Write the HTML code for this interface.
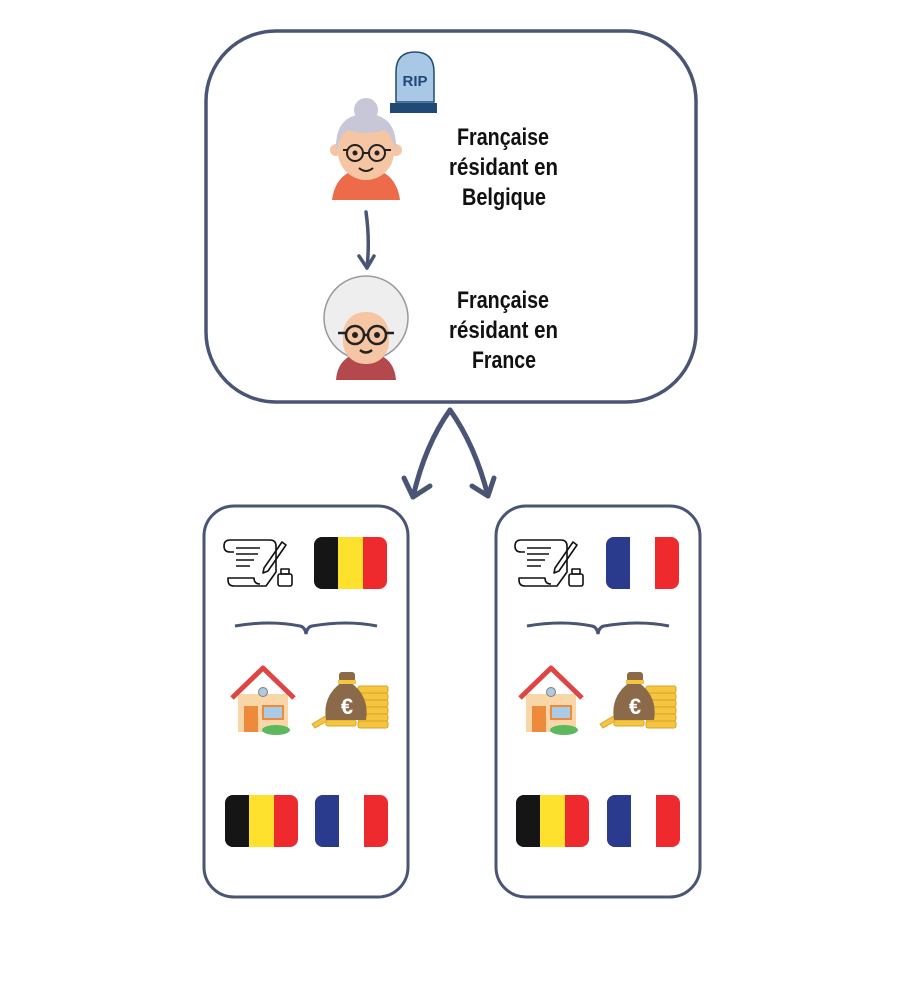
<!DOCTYPE html>
<html><head><meta charset="utf-8"><style>
html,body{margin:0;padding:0;background:#fff;width:900px;height:1000px;overflow:hidden}
svg{display:block}
text{font-family:"Liberation Sans Narrow","Liberation Sans",sans-serif;font-weight:bold;font-size:24px;fill:#111}
</style></head><body>
<svg width="900" height="1000" viewBox="0 0 900 1000" xmlns="http://www.w3.org/2000/svg">
<defs>
<g id="be"><rect x="0" y="0" width="73" height="52" rx="8" fill="#ee2a2f"/><rect x="0" y="0" width="30" height="52" rx="8" fill="#151515"/><rect x="24" y="0" width="25" height="52" fill="#fde12d"/></g>
<g id="fr"><rect x="0" y="0" width="73" height="52" rx="8" fill="#ee2a2f"/><rect x="0" y="0" width="30" height="52" rx="8" fill="#2a3a8c"/><rect x="24" y="0" width="25" height="52" fill="#fff"/></g>
<g id="doc" fill="none" stroke="#111" stroke-width="1.6" stroke-linejoin="round">
<path d="M6 4 h40 q6 0 6 6 v26 l-10 14 h-32 q-6 0 -6 -6 v-2 h26 q0 6 6 6"/><path d="M6 4 q-6 0 -6 6 q0 6 6 6 h4"/>
<path d="M12 12 h24 M12 18 h22 M12 24 h18 M12 30 h14"/><path d="M40 32 l18 -26 l4 3 l-18 26 l-5 2z"/>
<rect x="54" y="38" width="14" height="12" rx="2"/><rect x="57" y="33" width="8" height="5"/></g>
<g id="house"><rect x="8" y="26" width="50" height="38" fill="#f9d6a8"/><path d="M2 30 L33 0 L64 30" fill="none" stroke="#e04545" stroke-width="5" stroke-linejoin="round"/><circle cx="33" cy="24" r="4.5" fill="#a9cbe8" stroke="#8a7a6a"/><rect x="14" y="38" width="14" height="26" fill="#ee8a3c"/><rect x="33" y="38" width="20" height="13" fill="#a9cbe8" stroke="#ee8a3c" stroke-width="2"/><ellipse cx="46" cy="62" rx="14" ry="5" fill="#5cb85c"/></g>
<g id="money"><g fill="#f5c542" stroke="#d9a520" stroke-width="1"><rect x="46" y="16" width="30" height="7" rx="2"/><rect x="46" y="23" width="30" height="7" rx="2"/><rect x="46" y="30" width="30" height="7" rx="2"/><rect x="46" y="37" width="30" height="7" rx="2"/><rect x="46" y="44" width="30" height="7" rx="2"/><rect x="46" y="51" width="30" height="7" rx="2"/><path d="M0 54 l24 -14 l3 4 l-24 14z"/><rect x="14" y="50" width="30" height="6" rx="2"/></g>
<path d="M30 12 q-20 14 -16 38 h40 q4 -24 -16 -38z" fill="#8b6a4a"/><rect x="27" y="2" width="16" height="10" rx="3" fill="#8b6a4a"/><rect x="26" y="10" width="18" height="4" fill="#f5c542"/><text x="35" y="44" text-anchor="middle" style="font-family:'Liberation Sans',sans-serif;font-size:22px;fill:#fff">€</text></g>
<g id="brace"><path d="M0 6 q35 -6 65 0 q5 1 6 8 q1 -7 6 -8 q35 -6 65 0" fill="none" stroke="#4a5575" stroke-width="3"/></g>
</defs>
<rect x="206" y="31" width="490" height="371" rx="70" fill="none" stroke="#4a5575" stroke-width="3.5"/>
<rect x="204" y="506" width="204" height="391" rx="30" fill="none" stroke="#4a5575" stroke-width="3"/>
<rect x="496" y="506" width="204" height="391" rx="30" fill="none" stroke="#4a5575" stroke-width="3"/>
<g fill="none" stroke="#4a5575" stroke-width="5" stroke-linecap="round" stroke-linejoin="round">
<path d="M450 410 Q425 445 413 497"/><path d="M404 478 L413 497 L430 486"/>
<path d="M450 410 Q475 445 488 496"/><path d="M472 486 L488 496 L494 478"/>
<path d="M366 212 Q370 240 367 268" stroke-width="3.5"/><path d="M359 256 L367 268 L374 256" stroke-width="3.5"/>
</g>
<path d="M396 102 V72 q0 -20 19 -20 q19 0 19 20 V102z" fill="#a9c8e6" stroke="#1f4a75" stroke-width="1.5"/>
<rect x="390" y="103" width="47" height="10" fill="#1f4a75"/>
<text x="415" y="86" text-anchor="middle" style="font-size:15px;fill:#1f4a75">RIP</text>
<path d="M332 200 q4 -30 34 -32 q30 2 34 32z" fill="#ee6b4a"/>
<circle cx="366" cy="110" r="12" fill="#c7c7d8"/>
<circle cx="336" cy="150" r="6" fill="#f6c6a4"/><circle cx="396" cy="150" r="6" fill="#f6c6a4"/>
<rect x="338" y="118" width="56" height="62" rx="28" fill="#f6c6a4"/>
<path d="M336 152 q-2 -38 30 -38 q32 0 30 38 q-4 -18 -12 -22 q-18 6 -36 0 q-8 4 -12 22z" fill="#c7c7d8"/>
<g fill="none" stroke="#222" stroke-width="2"><circle cx="355" cy="153" r="8"/><circle cx="377" cy="153" r="8"/><path d="M363 153 h6 M343 150 h4 M385 150 h6"/><path d="M359 168 q7 6 14 0"/></g>
<circle cx="355" cy="153" r="2.5" fill="#222"/><circle cx="377" cy="153" r="2.5" fill="#222"/>
<path d="M336 380 q2 -26 30 -28 q28 2 30 28z" fill="#b3484d"/>
<circle cx="366" cy="318" r="42" fill="#eeeeee" stroke="#999" stroke-width="1.5"/>
<rect x="343" y="312" width="46" height="52" rx="22" fill="#f6c6a4"/>
<path d="M340 322 q0 -22 26 -22 q26 0 26 22 q-8 -12 -26 -12 q-18 0 -26 12z" fill="#eeeeee"/>
<g fill="none" stroke="#222" stroke-width="2.5"><circle cx="355" cy="335" r="9"/><circle cx="377" cy="335" r="9"/><path d="M364 335 h4 M338 333 h8 M386 333 h8"/><path d="M360 350 q6 5 12 0"/></g>
<circle cx="355" cy="335" r="3" fill="#222"/><circle cx="377" cy="335" r="3" fill="#222"/>
<text x="457" y="145" textLength="92" lengthAdjust="spacingAndGlyphs">Française</text>
<text x="449" y="175" textLength="109" lengthAdjust="spacingAndGlyphs">résidant en</text>
<text x="462" y="205" textLength="84" lengthAdjust="spacingAndGlyphs">Belgique</text>
<text x="457" y="308" textLength="92" lengthAdjust="spacingAndGlyphs">Française</text>
<text x="449" y="338" textLength="109" lengthAdjust="spacingAndGlyphs">résidant en</text>
<text x="472" y="368" textLength="64" lengthAdjust="spacingAndGlyphs">France</text>
<use href="#doc" x="224" y="536"/><use href="#be" x="314" y="537"/>
<use href="#brace" x="235" y="620"/>
<use href="#house" x="230" y="668"/><use href="#money" x="312" y="670"/>
<use href="#be" x="225" y="795"/><use href="#fr" x="315" y="795"/>
<use href="#doc" x="515" y="536"/><use href="#fr" x="606" y="537"/>
<use href="#brace" x="527" y="620"/>
<use href="#house" x="518" y="668"/><use href="#money" x="600" y="670"/>
<use href="#be" x="516" y="795"/><use href="#fr" x="607" y="795"/>
</svg>
</body></html>
